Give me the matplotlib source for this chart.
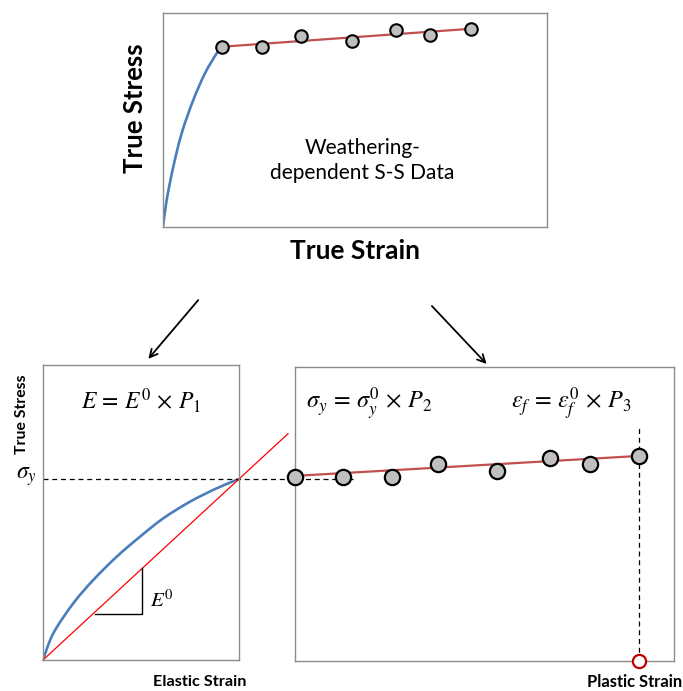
import matplotlib
matplotlib.use("Agg")
import matplotlib.pyplot as plt
from matplotlib.patches import FancyArrowPatch, PathPatch
from matplotlib.path import Path

plt.rcParams['font.family'] = ['Lato', 'DejaVu Sans']
plt.rcParams['mathtext.fontset'] = 'stix'

W, H = 683, 691

# ---- top panel: weathering-dependent stress-strain data ----
top_curve_x = [0.0, 0.0096, 0.0268, 0.0487, 0.0789, 0.1094, 0.1398, 0.1536]
top_curve_y = [0.0, 0.124, 0.279, 0.436, 0.591, 0.716, 0.809, 0.839]
top_pts_x = [0.1536, 0.2578, 0.3594, 0.4922, 0.6068, 0.6953, 0.8021]
top_pts_y = [0.840, 0.840, 0.892, 0.867, 0.918, 0.893, 0.924]
top_fit_x = [0.1536, 0.8021]
top_fit_y = [0.840, 0.924]

# ---- bottom left: elastic part ----
el_curve_x = [0.0, 0.0526, 0.1546, 0.2566, 0.376, 0.4949, 0.6138, 0.75, 0.8862, 1.0]
el_curve_y = [0.0, 0.0905, 0.1922, 0.2712, 0.3502, 0.418, 0.4803, 0.5366, 0.5820, 0.6136]
el_line_x = [0.0, 1.25]
el_line_y = [0.0, 0.767]
sigma_y = 0.6136
tri_x = [0.265, 0.507, 0.507]
tri_y = [0.155, 0.155, 0.311]

# ---- bottom right: plastic part ----
pl_pts_x = [0.0, 0.1276, 0.2554, 0.3778, 0.5337, 0.6745, 0.7794, 0.9089]
pl_pts_y = [0.626, 0.624, 0.624, 0.668, 0.647, 0.691, 0.668, 0.697]
pl_fit_x = [0.0, 0.9089]
pl_fit_y = [0.629, 0.697]
eps_f = 0.9089
eps_f_top = 0.802

BLUE = '#4a7ebb'
FIT_RED = '#c0504d'
GRAY = '#bfbfbf'
EDGE = '#8c8c8c'


def fx(px):
    return px / W


def fy(py):
    return 1 - py / H


def box(x0, y0, x1, y1):
    return [fx(x0), fy(y1), (x1 - x0) / W, (y1 - y0) / H]


def frame(ax):
    ax.set_xlim(0, 1)
    ax.set_ylim(0, 1)
    ax.set_xticks([])
    ax.set_yticks([])
    for s in ax.spines.values():
        s.set_color(EDGE)
        s.set_linewidth(1.0)


def smooth_curve(ax, xs, ys, **kw):
    """Draw a smooth Catmull-Rom style Bezier curve through the given points."""
    pts = list(zip(xs, ys))
    n = len(pts)
    verts = [pts[0]]
    codes = [Path.MOVETO]
    for i in range(n - 1):
        p0 = pts[i - 1] if i > 0 else pts[i]
        p1 = pts[i]
        p2 = pts[i + 1]
        p3 = pts[i + 2] if i + 2 < n else pts[i + 1]
        c1 = (p1[0] + (p2[0] - p0[0]) / 6, p1[1] + (p2[1] - p0[1]) / 6)
        c2 = (p2[0] - (p3[0] - p1[0]) / 6, p2[1] - (p3[1] - p1[1]) / 6)
        verts += [c1, c2, p2]
        codes += [Path.CURVE4] * 3
    ax.add_patch(PathPatch(Path(verts, codes), fill=False, **kw))


fig = plt.figure(figsize=(W / 100, H / 100), dpi=100)

# top panel
ax_top = fig.add_axes(box(163, 12.5, 547, 226.5))
frame(ax_top)
smooth_curve(ax_top, top_curve_x, top_curve_y, edgecolor=BLUE, lw=1.9, capstyle='round')
ax_top.plot(top_fit_x, top_fit_y, color=FIT_RED, lw=1.6)
ax_top.plot(top_pts_x, top_pts_y, 'o', ms=9, mfc=GRAY, mec='black', mew=1.5)
ax_top.text(0.52, 0.31, 'Weathering-\ndependent S-S Data', ha='center', va='center',
            fontsize=15, linespacing=1.3, transform=ax_top.transAxes)

# bottom left panel
ax_el = fig.add_axes(box(43, 365, 239, 660))
frame(ax_el)
smooth_curve(ax_el, el_curve_x, el_curve_y, edgecolor=BLUE, lw=1.9)
ax_el.plot(el_line_x, el_line_y, color='red', lw=0.9, clip_on=False)
ax_el.plot(tri_x, tri_y, color='black', lw=1.0)
ax_el.plot([0, 1.582], [sigma_y, sigma_y], color='black', lw=0.9, ls=(0, (4, 3)),
           clip_on=False, zorder=1)
ax_el.text(0.548, 0.203, r'$E^0$', fontsize=15, ha='left', va='center')
ax_el.text(0.5, 0.88, r'$E\,=\,E^0\,\times\,P_1$', fontsize=17, ha='center', va='center')

# bottom right panel
ax_pl = fig.add_axes(box(295, 367, 673.5, 660.5))
frame(ax_pl)
ax_pl.patch.set_alpha(0)
ax_pl.plot([eps_f, eps_f], [0, eps_f_top], color='black', lw=0.9, ls=(0, (4, 3)))
ax_pl.plot(pl_fit_x, pl_fit_y, color=FIT_RED, lw=1.6, zorder=3)
ax_pl.plot(pl_pts_x, pl_pts_y, 'o', ms=11, mfc=GRAY, mec='black', mew=1.6,
           clip_on=False, zorder=4)
ax_pl.plot([eps_f], [0], 'o', ms=9.5, mfc='white', mec='#c00000', mew=1.6,
           clip_on=False, zorder=4)
ax_pl.text(0.03, 0.875, r'$\sigma_y\,=\,\sigma_y^0\,\times\,P_2$', fontsize=17.5,
           ha='left', va='center')
ax_pl.text(0.57, 0.875, r'$\varepsilon_f\,=\,\varepsilon_f^0\,\times\,P_3$', fontsize=17.5,
           ha='left', va='center')

# axis labels
fig.text(fx(135), fy(108), 'True Stress', rotation=90, ha='center', va='center',
         fontsize=18.5, fontweight='bold')
fig.text(fx(355), fy(251), 'True Strain', ha='center', va='center',
         fontsize=19, fontweight='bold')
fig.text(fx(22), fy(414), 'True Stress', rotation=90, ha='center', va='center',
         fontsize=11.3, fontweight='bold')
fig.text(fx(200), fy(682), 'Elastic Strain', ha='center', va='center',
         fontsize=11.7, fontweight='bold')
fig.text(fx(635), fy(682), 'Plastic Strain', ha='center', va='center',
         fontsize=11.9, fontweight='bold')
fig.text(fx(37), fy(477), r'$\sigma_y$', ha='right', va='center', fontsize=17)

# arrows linking the panels
for (xa, ya), (xb, yb) in [((200, 298), (146.5, 361)), ((430, 304), (488.5, 366))]:
    fig.add_artist(FancyArrowPatch((fx(xa), fy(ya)), (fx(xb), fy(yb)),
                                   transform=fig.transFigure, arrowstyle='->',
                                   mutation_scale=14, lw=1.3, color='black'))

fig.savefig('out.png', dpi=100)
